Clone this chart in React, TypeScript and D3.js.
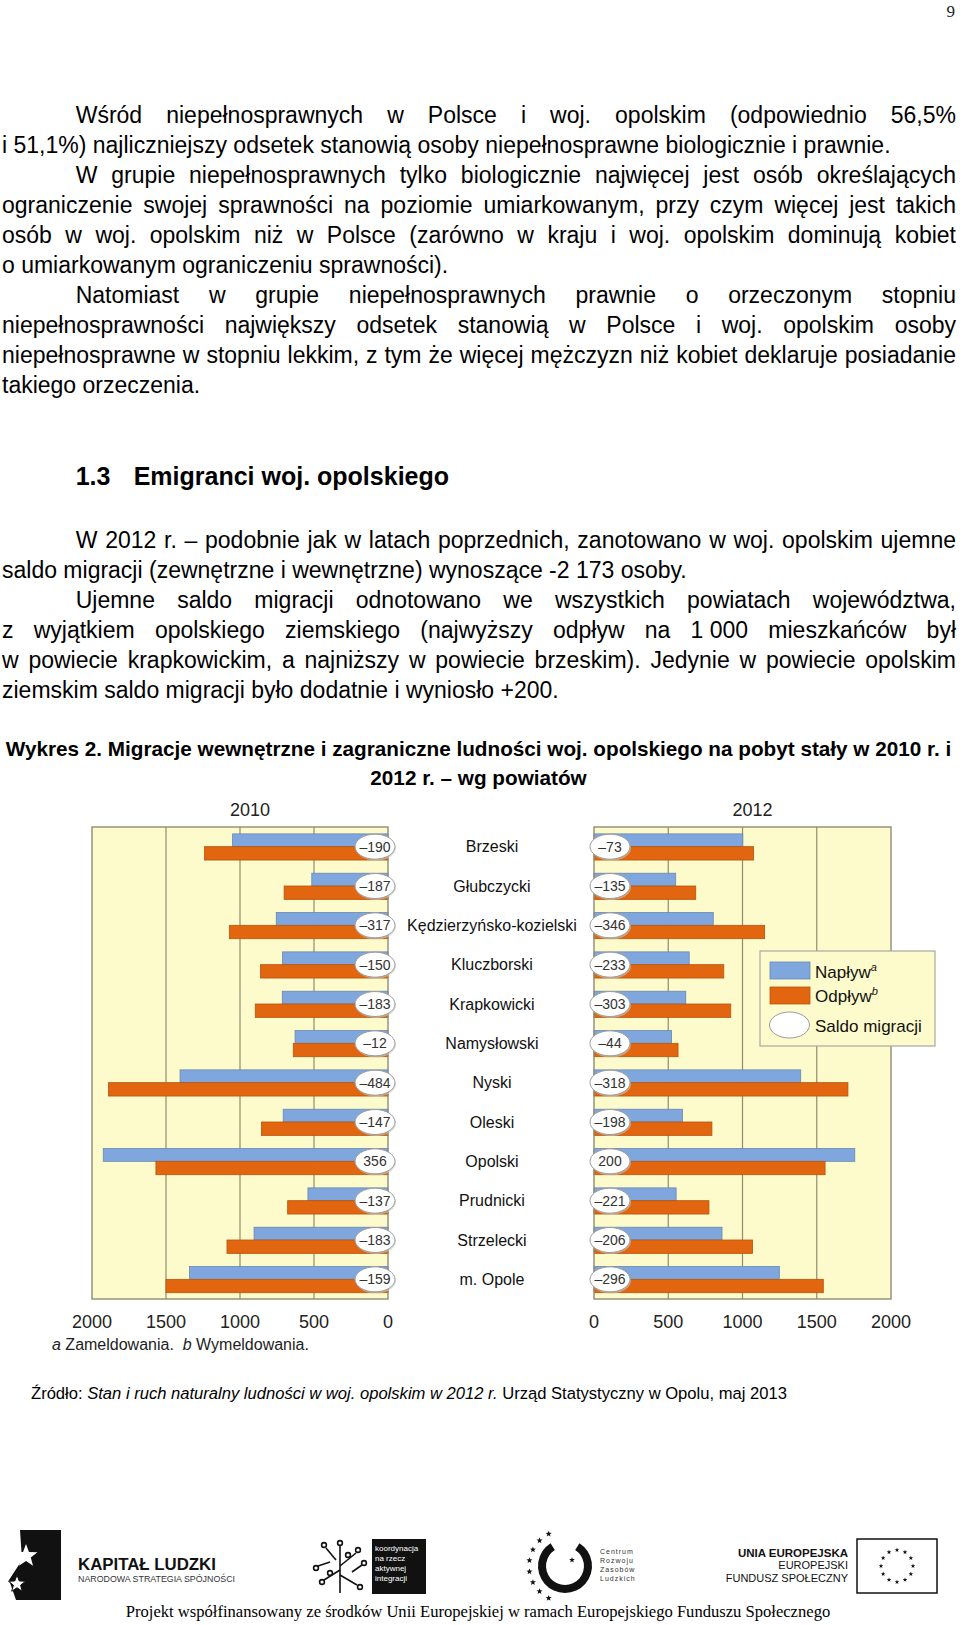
import React from 'react';
import * as d3 from 'd3';

// ---------- chart data ----------
const categories = ['Brzeski', 'Głubczycki', 'Kędzierzyńsko-kozielski', 'Kluczborski', 'Krapkowicki', 'Namysłowski', 'Nyski', 'Oleski', 'Opolski', 'Prudnicki', 'Strzelecki', 'm. Opole'];
const inflow2010 = [1050, 515, 755, 712, 714, 628, 1405, 708, 1924, 541, 905, 1341];
const outflow2010 = [1240, 702, 1072, 862, 897, 640, 1889, 855, 1568, 678, 1088, 1500];
const saldo2010 = [-190, -187, -317, -150, -183, -12, -484, -147, 356, -137, -183, -159];
const inflow2012 = [1002, 550, 803, 641, 618, 522, 1392, 596, 1756, 553, 862, 1248];
const outflow2012 = [1075, 685, 1149, 874, 921, 566, 1710, 794, 1556, 774, 1068, 1544];
const saldo2012 = [-73, -135, -346, -233, -303, -44, -318, -198, 200, -221, -206, -296];
const tickValues = [0, 500, 1000, 1500, 2000];
const years = ['2010', '2012'];
const legendLabels = ['Napływ', 'Odpływ', 'Saldo migracji'];
const legendSup = ['a', 'b', ''];

// ---------- page text ----------
const para1 = [
  'Wśród niepełnosprawnych w Polsce i woj. opolskim (odpowiednio 56,5%',
  'i 51,1%) najliczniejszy odsetek stanowią osoby niepełnosprawne biologicznie i prawnie.',
];
const para2 = [
  'W grupie niepełnosprawnych tylko biologicznie najwięcej jest osób określających',
  'ograniczenie swojej sprawności na poziomie umiarkowanym, przy czym więcej jest takich',
  'osób w woj. opolskim niż w Polsce (zarówno w kraju i woj. opolskim dominują kobiet',
  'o umiarkowanym ograniczeniu sprawności).',
];
const para3 = [
  'Natomiast w grupie niepełnosprawnych prawnie o orzeczonym stopniu',
  'niepełnosprawności największy odsetek stanowią w Polsce i woj. opolskim osoby',
  'niepełnosprawne w stopniu lekkim, z tym że więcej mężczyzn niż kobiet deklaruje posiadanie',
  'takiego orzeczenia.',
];
const para4 = [
  'W 2012 r. – podobnie jak w latach poprzednich, zanotowano w woj. opolskim ujemne',
  'saldo migracji (zewnętrzne i wewnętrzne) wynoszące -2\u00A0173 osoby.',
];
const para5 = [
  'Ujemne saldo migracji odnotowano we wszystkich powiatach województwa,',
  'z wyjątkiem opolskiego ziemskiego (najwyższy odpływ na 1\u00A0000 mieszkańców był',
  'w powiecie krapkowickim, a najniższy w powiecie brzeskim). Jedynie w powiecie opolskim',
  'ziemskim saldo migracji było dodatnie i wyniosło +200.',
];
const captionLines = [
  'Wykres 2. Migracje wewnętrzne i zagraniczne ludności woj. opolskiego na pobyt stały w 2010 r. i',
  '2012 r. – wg powiatów',
];

const SANS = "'Liberation Sans', Arial, sans-serif";
const SERIF = "'Liberation Serif', 'Times New Roman', serif";

let ctx: CanvasRenderingContext2D | null = null;
function measure(text: string, font: string): number {
  if (!ctx) ctx = document.createElement('canvas').getContext('2d');
  ctx!.font = font;
  return ctx!.measureText(text).width;
}
function fitSize(text: string, weight: string, family: string, width: number, base = 20) {
  const w = measure(text, `${weight} ${base}px ${family}`);
  return (base * width) / w;
}

function Paragraph({ lines, y0, size }: { lines: string[]; y0: number; size: number }) {
  const font = `${size}px ${SANS}`;
  const left = 2, right = 956, indent = 75.7, lh = 30;
  return (
    <g fontFamily={SANS} fontSize={size} fill="#000">
      {lines.map((line, i) => {
        const x0 = i === 0 ? indent : left;
        const words = line.split(' ');
        const widths = words.map((w) => measure(w, font));
        const total = d3.sum(widths);
        const last = i === lines.length - 1;
        const gap = last || words.length < 2 ? measure(' ', font) : (right - x0 - total) / (words.length - 1);
        let x = x0;
        return words.map((w, j) => {
          const el = (
            <text key={`${i}-${j}`} x={x} y={y0 + i * lh}>
              {w}
            </text>
          );
          x += widths[j] + gap;
          return el;
        });
      })}
    </g>
  );
}

function star(cx: number, cy: number, r: number) {
  const pts: string[] = [];
  for (let k = 0; k < 10; k++) {
    const a = -Math.PI / 2 + (k * Math.PI) / 5;
    const rr = k % 2 === 0 ? r : r * 0.42;
    pts.push(`${cx + rr * Math.cos(a)},${cy + rr * Math.sin(a)}`);
  }
  return pts.join(' ');
}

const BLUE = '#7fa7de';
const BLUE_S = '#6787b4';
const ORANGE = '#e2650f';
const ORANGE_S = '#b4550f';
const PLOT_BG = '#fdfbcb';
const GRID = '#8f8c72';

function Panel({ side, inflow, outflow, saldo, year }: { side: 'L' | 'R'; inflow: number[]; outflow: number[]; saldo: number[]; year: string }) {
  const x = side === 'L'
    ? d3.scaleLinear().domain([0, 2000]).range([388, 92])
    : d3.scaleLinear().domain([0, 2000]).range([594, 891]);
  const y = d3.scaleBand<string>().domain(categories).range([827, 1299]);
  const bw = y.bandwidth();
  const x0 = x(0);
  const xMin = Math.min(x(0), x(2000));
  const xMax = Math.max(x(0), x(2000));
  const ellX = side === 'L' ? x0 - 13 : x0 + 16;
  const fmt = (v: number) => (v < 0 ? '–' + Math.abs(v) : String(v));
  return (
    <g>
      <rect x={xMin} y={827} width={xMax - xMin} height={472} fill={PLOT_BG} />
      {tickValues.slice(1, 4).map((t) => (
        <line key={t} x1={x(t)} x2={x(t)} y1={827} y2={1299} stroke={GRID} strokeWidth={1.2} />
      ))}
      {categories.map((c, i) => {
        const cy = (y(c) as number) + bw / 2;
        const hb = bw * 0.325;
        const ho = bw * 0.34;
        return (
          <g key={c}>
            <rect x={Math.min(x0, x(inflow[i]))} y={cy - hb} width={Math.abs(x(inflow[i]) - x0)} height={hb} fill={BLUE} stroke={BLUE_S} strokeWidth={0.8} />
            <rect x={Math.min(x0, x(outflow[i]))} y={cy} width={Math.abs(x(outflow[i]) - x0)} height={ho} fill={ORANGE} stroke={ORANGE_S} strokeWidth={0.8} />
          </g>
        );
      })}
      <rect x={xMin} y={827} width={xMax - xMin} height={472} fill="none" stroke={GRID} strokeWidth={1.4} />
      {categories.map((c, i) => {
        const cy = (y(c) as number) + bw / 2;
        return (
          <g key={'e' + c}>
            <ellipse cx={ellX + 1} cy={cy + 1.5} rx={20} ry={12.5} fill="#c9c9c0" opacity={0.6} />
            <ellipse cx={ellX} cy={cy} rx={20} ry={12.5} fill="#fff" stroke="#9c9c9c" strokeWidth={1} />
            <text x={ellX} y={cy} dy="0.36em" textAnchor="middle" fontSize={14} fontFamily={SANS} fill="#333">
              {fmt(saldo[i])}
            </text>
          </g>
        );
      })}
      {tickValues.map((t) => (
        <text key={'t' + t} x={x(t)} y={1328} textAnchor="middle" fontSize={18} fontFamily={SANS} fill="#222">
          {t}
        </text>
      ))}
      <text x={(xMin + xMax) / 2 + 10} y={816} textAnchor="middle" fontSize={18} fontFamily={SANS} fill="#222">
        {year}
      </text>
    </g>
  );
}

function Chart() {
  const y = d3.scaleBand<string>().domain(categories).range([827, 1299]);
  const bw = y.bandwidth();
  return (
    <g>
      <Panel side="L" inflow={inflow2010} outflow={outflow2010} saldo={saldo2010} year={years[0]} />
      <Panel side="R" inflow={inflow2012} outflow={outflow2012} saldo={saldo2012} year={years[1]} />
      {categories.map((c) => (
        <text key={c} x={492} y={(y(c) as number) + bw / 2} dy="0.36em" textAnchor="middle" fontSize={16} fontFamily={SANS} fill="#111">
          {c}
        </text>
      ))}
      {/* legend */}
      <rect x={760} y={951} width={175} height={95} fill={PLOT_BG} stroke="#a9a9a0" strokeWidth={1.2} />
      <rect x={770} y={962} width={40} height={17} fill={BLUE} stroke={BLUE_S} strokeWidth={0.8} />
      <rect x={770} y={987} width={40} height={17} fill={ORANGE} stroke={ORANGE_S} strokeWidth={0.8} />
      <ellipse cx={789.5} cy={1025} rx={20} ry={13} fill="#fff" stroke="#9c9c9c" strokeWidth={1} />
      {legendLabels.map((l, i) => (
        <text key={l} x={815} y={[978, 1002, 1032][i]} fontSize={17} fontFamily={SANS} fill="#111">
          {l}
          {legendSup[i] && (
            <tspan fontSize={11} fontStyle="italic" dy={-7}>
              {legendSup[i]}
            </tspan>
          )}
        </text>
      ))}
      <text x={52} y={1350} fontSize={16} fontFamily={SANS} fill="#222">
        <tspan fontStyle="italic">a</tspan> Zameldowania.{'\u00A0\u00A0'}
        <tspan fontStyle="italic">b</tspan> Wymeldowania.
      </text>
    </g>
  );
}

function Footer() {
  const arcC = d3.arc()({ innerRadius: 19, outerRadius: 27, startAngle: Math.PI * 0.18, endAngle: Math.PI * 1.82 }) as string;
  const cStars = d3.range(8).map((k) => {
    const a = Math.PI * (1.15 + k * 0.1);
    return [565 + 36 * Math.sin(a), 1566 - 36 * Math.cos(a)];
  });
  const euStars = d3.range(12).map((k) => {
    const a = (k * Math.PI) / 6;
    return [897 + 16 * Math.sin(a), 1566 - 16 * Math.cos(a)];
  });
  const srcSize = fitSize('Źródło: Stan i ruch naturalny ludności w woj. opolskim w 2012 r. Urząd Statystyczny w Opolu, maj 2013', '', SANS, 756);
  const projText = 'Projekt współfinansowany ze środków Unii Europejskiej w ramach Europejskiego Funduszu Społecznego';
  const projSize = fitSize(projText, '', SERIF, 705);
  const klSize = fitSize('KAPITAŁ LUDZKI', 'bold', SANS, 138);
  const nsSize = fitSize('NARODOWA STRATEGIA SPÓJNOŚCI', '', SANS, 158);
  return (
    <g>
      <text x={31} y={1399} fontSize={srcSize} fontFamily={SANS} fill="#000">
        Źródło: <tspan fontStyle="italic">Stan i ruch naturalny ludności w woj. opolskim w 2012 r.</tspan> Urząd Statystyczny w Opolu, maj 2013
      </text>
      {/* Kapitał Ludzki */}
      <polygon points="20,1530 61,1530 61,1600 16,1600 9,1580 22,1560" fill="#111" />
      <polygon points={star(26, 1556, 12)} fill="#fff" />
      <polygon points={star(17, 1584, 9)} fill="#fff" stroke="#111" strokeWidth={1} />
      <text x={78} y={1570} fontSize={klSize} fontWeight="bold" fontFamily={SANS} fill="#111">KAPITAŁ LUDZKI</text>
      <text x={78} y={1582} fontSize={nsSize} fontFamily={SANS} fill="#333">NARODOWA STRATEGIA SPÓJNOŚCI</text>
      {/* koordynacja */}
      <g stroke="#111" strokeWidth={1.6} fill="#fff">
        <line x1={340} y1={1546} x2={340} y2={1593} />
        <line x1={340} y1={1570} x2={324} y2={1580} />
        <line x1={340} y1={1566} x2={356} y2={1553} />
        <line x1={340} y1={1575} x2={357} y2={1585} />
        <line x1={326} y1={1548} x2={336} y2={1560} />
        <line x1={318} y1={1566} x2={330} y2={1562} />
        <line x1={352} y1={1572} x2={362} y2={1565} />
        {[[340, 1543], [324, 1545], [316, 1568], [322, 1582], [358, 1550], [360, 1587], [364, 1563], [348, 1555], [330, 1573]].map(([cx, cy], k) => (
          <circle key={k} cx={cx} cy={cy} r={2.4} />
        ))}
      </g>
      <rect x={372} y={1539} width={54} height={55} fill="#111" />
      {['koordynacja', 'na rzecz', 'aktywnej', 'integracji'].map((t, k) => (
        <text key={t} x={375} y={1551 + k * 10} fontSize={8} fontFamily={SANS} fill="#fff">{t}</text>
      ))}
      {/* Centrum Rozwoju */}
      <path d={arcC} transform="translate(565,1566)" fill="#111" />
      {cStars.map(([cx, cy], k) => (
        <polygon key={k} points={star(cx, cy, 3.2)} fill="#111" />
      ))}
      <polygon points={star(572, 1560, 3)} fill="#111" />
      {['Centrum', 'Rozwoju', 'Zasobów', 'Ludzkich'].map((t, k) => (
        <text key={t} x={600} y={1554 + k * 9} fontSize={7} letterSpacing={1} fontFamily={SANS} fill="#333">{t}</text>
      ))}
      {/* UE */}
      <text x={848} y={1557} textAnchor="end" fontSize={11.5} fontWeight="bold" fontFamily={SANS} fill="#111">UNIA EUROPEJSKA</text>
      <text x={848} y={1569} textAnchor="end" fontSize={11} fontFamily={SANS} fill="#111">EUROPEJSKI</text>
      <text x={848} y={1582} textAnchor="end" fontSize={11} fontFamily={SANS} fill="#111">FUNDUSZ SPOŁECZNY</text>
      <rect x={857} y={1539} width={80} height={54} fill="#fff" stroke="#111" strokeWidth={1.5} />
      {euStars.map(([cx, cy], k) => (
        <polygon key={k} points={star(cx, cy, 2.4)} fill="#111" />
      ))}
      <text x={478} y={1617} textAnchor="middle" fontSize={projSize} fontFamily={SERIF} fill="#000">{projText}</text>
    </g>
  );
}

export default function App() {
  const body = 23;
  const capSize = fitSize(captionLines[0], 'bold', SANS, 946);
  return (
    <svg width={960} height={1625} viewBox="0 0 960 1625" style={{ position: 'absolute', left: 0, top: 0, display: 'block', background: '#fff' }}>
      <rect x={0} y={0} width={960} height={1625} fill="#fff" />
      <text x={955} y={17} textAnchor="end" fontSize={17} fontFamily={SERIF} fill="#222">9</text>
      <Paragraph lines={para1} y0={123} size={body} />
      <Paragraph lines={para2} y0={183} size={body} />
      <Paragraph lines={para3} y0={303} size={body} />
      <text y={485} fontSize={25} fontWeight="bold" fontFamily={SANS} fill="#000">
        <tspan x={75.7}>1.3</tspan>
        <tspan x={133.7}>Emigranci woj. opolskiego</tspan>
      </text>
      <Paragraph lines={para4} y0={548} size={body} />
      <Paragraph lines={para5} y0={608} size={body} />
      {captionLines.map((l, i) => (
        <text key={i} x={478.5} y={756 + i * 29} textAnchor="middle" fontSize={capSize} fontWeight="bold" fontFamily={SANS} fill="#000">
          {l}
        </text>
      ))}
      <Chart />
      <Footer />
    </svg>
  );
}
